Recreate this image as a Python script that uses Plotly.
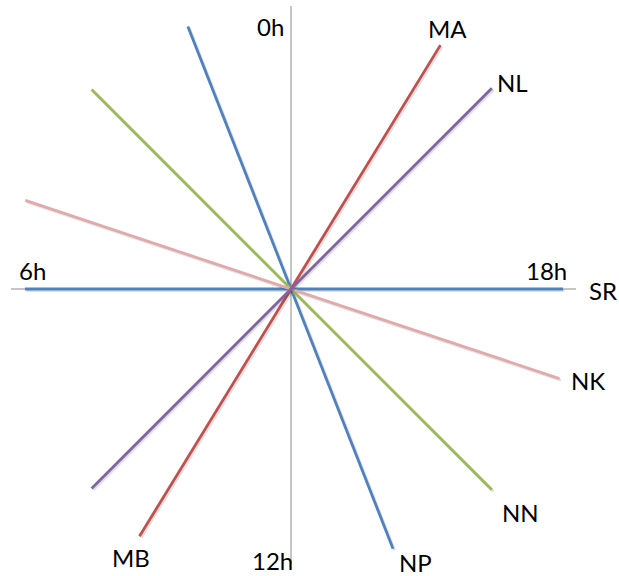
import numpy as np
import plotly.graph_objects as go

# Data: each line passes through the centre; one end at hour angle h_a, other at h_a+12
names = ["SR", "NP", "NN", "NK", "MA", "NL"]
hour_a = [6.0, 1.43, 3.0, 4.77, 21.9, 21.0]
len_a = [266, 282, 282, 280, 286, 284]
len_b = [272, 279, 284, 283, 290, 282]
colors = ["#4F81BD", "#4F81BD", "#9BBB59", "#E0AAAA", "#C0504D", "#8064A2"]

hour_labels = ["0h", "6h", "12h", "18h"]
end_labels = ["SR", "NP", "NN", "NK", "MA", "MB", "NL"]

def pt(h, r):
    t = np.deg2rad(h * 15.0)
    return -r * np.sin(t), r * np.cos(t)

fig = go.Figure()

# axes (gray cross)
fig.add_trace(go.Scatter(x=[0, 0], y=[283, -274], mode="lines",
                         line=dict(color="#8C8C8C", width=1), hoverinfo="skip", showlegend=False))
fig.add_trace(go.Scatter(x=[-280, 285], y=[0, 0], mode="lines",
                         line=dict(color="#8C8C8C", width=1), hoverinfo="skip", showlegend=False))

for n, h, ra, rb, c in zip(names, hour_a, len_a, len_b, colors):
    x1, y1 = pt(h, ra)
    x2, y2 = pt(h + 12, rb)
    # soft shadow
    fig.add_trace(go.Scatter(x=[x1 + 1.5, x2 + 1.5], y=[y1 - 1.5, y2 - 1.5], mode="lines",
                             line=dict(color="rgba(0,0,0,0.12)", width=3),
                             hoverinfo="skip", showlegend=False))
    fig.add_trace(go.Scatter(x=[x1, x2], y=[y1, y2], mode="lines", name=n,
                             line=dict(color=c, width=2.8), showlegend=False))

font = dict(family="Lato, Open Sans, sans-serif", size=24, color="#000000")
# label positions (relative to centre, pixels)
hour_pos = [(-21, 263), (-259, 19), (-19, -271), (255, 19)]
end_pos = [(312, -1), (124, -273), (229, -223), (297, -91), (156, 261), (-160, -268), (221, 207)]

annotations = []
for t, (x, y) in zip(hour_labels, hour_pos):
    annotations.append(dict(x=x, y=y, text=t, showarrow=False, font=font, xanchor="center", yanchor="middle"))
for t, (x, y) in zip(end_labels, end_pos):
    annotations.append(dict(x=x, y=y, text=t, showarrow=False, font=font, xanchor="center", yanchor="middle"))

fig.update_layout(
    width=619, height=576,
    margin=dict(l=0, r=0, t=0, b=0),
    paper_bgcolor="white", plot_bgcolor="white",
    xaxis=dict(range=[-291, 328], visible=False, fixedrange=True),
    yaxis=dict(range=[-287, 289], visible=False, fixedrange=True),
    annotations=annotations,
    showlegend=False,
)

fig.write_html("out.html", config={"displayModeBar": False},
               post_script="document.body.style.margin='0';document.body.style.overflow='hidden';")
